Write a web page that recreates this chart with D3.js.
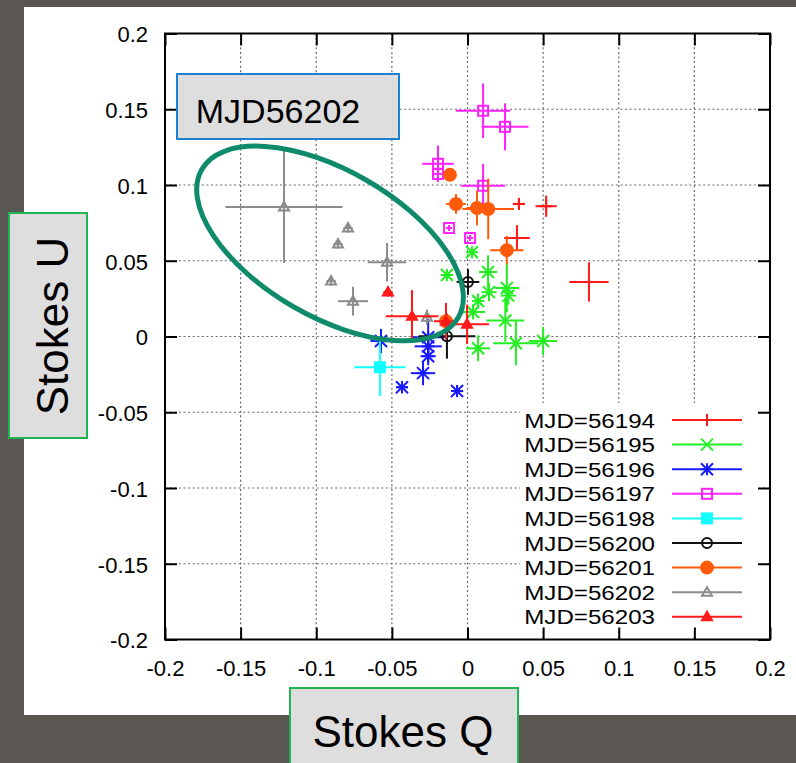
<!DOCTYPE html>
<html>
<head>
<meta charset="utf-8">
<script src="https://cdn.jsdelivr.net/npm/d3@7"></script>
<style>
  html, body { margin: 0; padding: 0; background: #5a5753; }
  svg { display: block; }
  text { font-family: "Liberation Sans", Arial, sans-serif; }
</style>
</head>
<body>
<svg id="chart" width="796" height="763"></svg>
<script>
// Stokes Q / U measurements per night: [q, u, dq, du]
const mjd56194 = [[0.034, 0.0875, 0.004, 0.004], [0.052, 0.086, 0.007, 0.007],
  [0.0327, 0.065, 0.0085, 0.0085], [0.0803, 0.036, 0.013, 0.013]];
const mjd56195 = [[0.003, 0.0556, 0.004, 0.004], [-0.0136, 0.0406, 0.004, 0.004],
  [0.0136, 0.0426, 0.006, 0.011], [0.0142, 0.0293, 0.005, 0.006],
  [0.026, 0.032, 0.008, 0.016], [0.027, 0.027, 0.005, 0.006],
  [0.007, 0.0234, 0.004, 0.005], [0.0037, 0.0162, 0.008, 0.005],
  [0.025, 0.0106, 0.0125, 0.014], [0.007, -0.0078, 0.008, 0.0085],
  [0.032, -0.0045, 0.015, 0.0145], [0.050, -0.003, 0.0093, 0.0093]];
const mjd56196 = [[-0.0572, -0.003, 0.007, 0.008], [-0.026, -0.0005, 0.011, 0.012],
  [-0.026, -0.0065, 0.009, 0.009], [-0.026, -0.013, 0.005, 0.006],
  [-0.0294, -0.0242, 0.008, 0.008], [-0.0433, -0.0335, 0.004, 0.004],
  [-0.0069, -0.036, 0.004, 0.004]];
const mjd56197 = [[0.0103, 0.149, 0.018, 0.018], [0.0248, 0.1384, 0.0155, 0.0155],
  [-0.0195, 0.114, 0.0105, 0.012], [-0.0195, 0.1073, 0.004, 0.004],
  [0.0103, 0.0995, 0.0145, 0.0145], [-0.0122, 0.0716, 0.002, 0.002],
  [0.0017, 0.065, 0.002, 0.002]];
const mjd56198 = [[-0.0579, -0.0203, 0.017, 0.019]];
const mjd56200 = [[0.0003, 0.036, 0.0075, 0.0085], [-0.0136, 0.0002, 0.0188, 0.0148]];
const mjd56201 = [[-0.0116, 0.1067, 0.003, 0.003], [-0.0076, 0.0875, 0.0065, 0.0065],
  [0.0063, 0.0848, 0.007, 0.0115], [0.0137, 0.0842, 0.017, 0.02],
  [0.026, 0.057, 0.011, 0.0095], [-0.0142, 0.0101, 0.004, 0.004]];
const mjd56202 = [[-0.1213, 0.0855, 0.0387, 0.037], [-0.079, 0.0716, 0.003, 0.003],
  [-0.0856, 0.061, 0.003, 0.003], [-0.0532, 0.049, 0.0127, 0.0127],
  [-0.0902, 0.0366, 0.003, 0.003], [-0.0757, 0.0233, 0.01, 0.0095],
  [-0.0268, 0.0127, 0.003, 0.005]];
const mjd56203 = [[-0.0526, 0.0293, 0.003, 0.003], [-0.0367, 0.0134, 0.0175, 0.0172],
  [-0.0142, 0.0101, 0.008, 0.012], [-0.0003, 0.0081, 0.0145, 0.013]];

const seriesNames = ["MJD=56194", "MJD=56195", "MJD=56196", "MJD=56197", "MJD=56198",
  "MJD=56200", "MJD=56201", "MJD=56202", "MJD=56203"];
const seriesData = [mjd56194, mjd56195, mjd56196, mjd56197, mjd56198,
  mjd56200, mjd56201, mjd56202, mjd56203];
const seriesColors = ["#ff1a1a", "#22ee22", "#1a1aff", "#ff22ff", "#11ffff",
  "#111111", "#ff5a0a", "#8c8c8c", "#ff1a1a"];
const seriesMarkers = ["plus", "cross", "star", "square", "fsquare",
  "circle", "fcircle", "triangle", "ftriangle"];

const tickValues = [-0.2, -0.15, -0.1, -0.05, 0, 0.05, 0.1, 0.15, 0.2];

// highlighted region around MJD 56202: centre, semi-axes (data units), tilt
const ellipseCenter = [-0.0909, 0.0614];
const ellipseAxes = [0.0979, 0.0483];
const ellipseTilt = 30;

const svg = d3.select("#chart");
const PLOT = { LEFT: 165, RIGHT: 770, TOP: 33.5, BOTTOM: 639.5 };

const x = d3.scaleLinear().domain([-0.2, 0.2]).range([PLOT.LEFT, PLOT.RIGHT]);
const y = d3.scaleLinear().domain([-0.2, 0.2]).range([PLOT.BOTTOM, PLOT.TOP]);
const fmt = (d) => String(Math.round(d * 100) / 100);

// white slide panel
svg.append("rect").attr("x", 24).attr("y", 7).attr("width", 772).attr("height", 708)
  .attr("fill", "#ffffff");

// dotted grid (inner ticks only)
const inner = tickValues.slice(1, -1);
const grid = svg.append("g").attr("stroke", "#6a6a6a").attr("stroke-width", 1.2)
  .attr("stroke-dasharray", "2,2.6");
grid.selectAll(".gx").data(inner).join("line")
  .attr("x1", (d) => x(d)).attr("x2", (d) => x(d))
  .attr("y1", PLOT.TOP).attr("y2", PLOT.BOTTOM);
grid.selectAll(".gy").data(inner).join("line")
  .attr("y1", (d) => y(d)).attr("y2", (d) => y(d))
  .attr("x1", PLOT.LEFT).attr("x2", PLOT.RIGHT);

// legend backdrop hides the grid under the key
const LEG = { TEXT_X: 655, LINE_X1: 672, LINE_X2: 742, Y0: 420, DY: 24.6 };
svg.append("rect").attr("x", 520).attr("y", 403).attr("width", 242).attr("height", 226)
  .attr("fill", "#ffffff");

// axes with inward ticks on every side
function styleAxis(g) {
  g.select(".domain").remove();
  g.selectAll(".tick line").attr("stroke", "#000").attr("stroke-width", 2);
  g.selectAll(".tick text").attr("fill", "#000").attr("font-size", 22)
    .attr("font-family", "Liberation Sans, Arial, sans-serif");
}
svg.append("g").attr("transform", `translate(0,${PLOT.BOTTOM})`)
  .call(d3.axisBottom(x).tickValues(tickValues).tickFormat(fmt).tickSize(-12).tickPadding(21))
  .call(styleAxis);
svg.append("g").attr("transform", `translate(${PLOT.LEFT},0)`)
  .call(d3.axisLeft(y).tickValues(tickValues).tickFormat(fmt).tickSize(-12).tickPadding(17))
  .call(styleAxis)
  .selectAll(".tick text").attr("dy", "0.38em");
svg.append("g").attr("transform", `translate(0,${PLOT.TOP})`)
  .call(d3.axisTop(x).tickValues(tickValues).tickFormat("").tickSize(-12))
  .call(styleAxis);
svg.append("g").attr("transform", `translate(${PLOT.RIGHT},0)`)
  .call(d3.axisRight(y).tickValues(tickValues).tickFormat("").tickSize(-12))
  .call(styleAxis);
svg.append("rect").attr("x", PLOT.LEFT).attr("y", PLOT.TOP)
  .attr("width", PLOT.RIGHT - PLOT.LEFT).attr("height", PLOT.BOTTOM - PLOT.TOP)
  .attr("fill", "none").attr("stroke", "#000").attr("stroke-width", 2);

// point markers, gnuplot style
function drawMarker(g, type, color, cx, cy) {
  const s = 6;
  const line = (x1, y1, x2, y2) => g.append("line")
    .attr("x1", cx + x1).attr("y1", cy + y1).attr("x2", cx + x2).attr("y2", cy + y2)
    .attr("stroke", color).attr("stroke-width", 2);
  if (type === "plus" || type === "star") { line(-s, 0, s, 0); line(0, -s, 0, s); }
  if (type === "cross" || type === "star") { line(-s, -s, s, s); line(-s, s, s, -s); }
  if (type === "square" || type === "fsquare") {
    g.append("rect").attr("x", cx - 5).attr("y", cy - 5).attr("width", 10).attr("height", 10)
      .attr("fill", type === "fsquare" ? color : "none").attr("stroke", color).attr("stroke-width", 2);
  }
  if (type === "circle" || type === "fcircle") {
    g.append("circle").attr("cx", cx).attr("cy", cy).attr("r", type === "fcircle" ? 6 : 5)
      .attr("fill", type === "fcircle" ? color : "none").attr("stroke", color).attr("stroke-width", 2);
  }
  if (type === "triangle" || type === "ftriangle") {
    const h = 5;
    g.append("path")
      .attr("d", `M${cx},${cy - h}L${cx + h},${cy + h * 0.7}L${cx - h},${cy + h * 0.7}Z`)
      .attr("fill", type === "ftriangle" ? color : "none").attr("stroke", color).attr("stroke-width", 2);
  }
}

const pts = svg.append("g");
seriesData.forEach((data, i) => {
  const color = seriesColors[i];
  const g = pts.append("g");
  data.forEach(([q, u, dq, du]) => {
    g.append("line").attr("x1", x(q - dq)).attr("x2", x(q + dq)).attr("y1", y(u)).attr("y2", y(u))
      .attr("stroke", color).attr("stroke-width", 2);
    g.append("line").attr("x1", x(q)).attr("x2", x(q)).attr("y1", y(u - du)).attr("y2", y(u + du))
      .attr("stroke", color).attr("stroke-width", 2);
    drawMarker(g, seriesMarkers[i], color, x(q), y(u));
  });
});

// legend (key text is slightly stretched sideways, as in the slide)
const leg = svg.append("g");
seriesNames.forEach((name, i) => {
  const ry = LEG.Y0 + i * LEG.DY;
  leg.append("text").attr("transform", `translate(${LEG.TEXT_X},${ry + 7.5}) scale(1.15,1)`)
    .attr("text-anchor", "end").attr("font-size", 21).attr("fill", "#000").text(name);
  leg.append("line").attr("x1", LEG.LINE_X1).attr("x2", LEG.LINE_X2).attr("y1", ry).attr("y2", ry)
    .attr("stroke", seriesColors[i]).attr("stroke-width", 2);
  drawMarker(leg, seriesMarkers[i], seriesColors[i], (LEG.LINE_X1 + LEG.LINE_X2) / 2, ry);
});

// ellipse around the MJD 56202 points
svg.append("ellipse")
  .attr("transform", `translate(${x(ellipseCenter[0])},${y(ellipseCenter[1])}) rotate(${ellipseTilt})`)
  .attr("rx", x(ellipseAxes[0]) - x(0)).attr("ry", x(ellipseAxes[1]) - x(0))
  .attr("fill", "none").attr("stroke", "#0f8b6c").attr("stroke-width", 5);

// annotation boxes
svg.append("rect").attr("x", 177).attr("y", 74).attr("width", 222).attr("height", 65)
  .attr("fill", "#dedede").attr("stroke", "#1f7fd0").attr("stroke-width", 2);
svg.append("text").attr("x", 278).attr("y", 123).attr("text-anchor", "middle")
  .attr("font-size", 34).attr("fill", "#000").text("MJD56202");

svg.append("rect").attr("x", 9).attr("y", 213).attr("width", 78).attr("height", 225)
  .attr("fill", "#dedede").attr("stroke", "#1fb552").attr("stroke-width", 2);
svg.append("text").attr("transform", "translate(68,326) rotate(-90)").attr("text-anchor", "middle")
  .attr("font-size", 44).attr("fill", "#000").text("Stokes U");

svg.append("rect").attr("x", 290).attr("y", 688).attr("width", 228).attr("height", 90)
  .attr("fill", "#dedede").attr("stroke", "#1fb552").attr("stroke-width", 2);
svg.append("text").attr("x", 403).attr("y", 747).attr("text-anchor", "middle")
  .attr("font-size", 44).attr("fill", "#000").text("Stokes Q");
</script>
</body>
</html>
